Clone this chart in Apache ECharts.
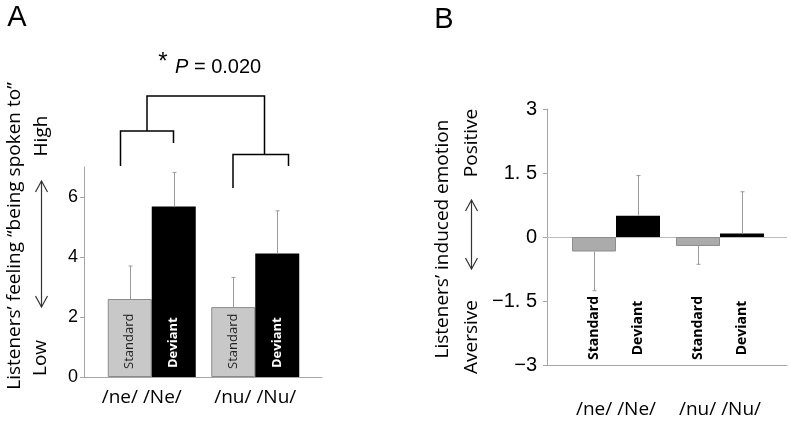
<!DOCTYPE html>
<html><head><meta charset="utf-8">
<script src="https://cdn.jsdelivr.net/npm/echarts@6/dist/echarts.min.js"></script>
<style>html,body{margin:0;padding:0;background:#fff}#c{width:791px;height:421px}</style>
</head><body><div id="c"></div>
<script>
// ---- data ----
const barNames = ['Standard', 'Deviant'];
const groupsA = ['/ne/ /Ne/', '/nu/ /Nu/'];
const standardA = [2.6, 2.33];
const deviantA = [5.68, 4.12];
const standardErrA = [1.1, 0.99];
const deviantErrA = [1.14, 1.42];
const ticksA = [0, 2, 4, 6];

const groupsB = ['/ne/ /Ne/', '/nu/ /Nu/'];
const standardB = [-0.34, -0.21];
const deviantB = [0.50, 0.08];
const standardErrB = [0.92, 0.43];
const deviantErrB = [0.94, 0.98];
const ticksB = [-3, -1.5, 0, 1.5, 3];
const tickLabelsB = ['−3', '−1. 5', '0', '1. 5', '3'];
const baselineB = 0;

// ---- styling ----
const BAR_W = 44;
const AXIS_C = '#a6a6a6';
const B_LEFT_EXT = 17;   // y-axis offset of panel B
const B_RIGHT_EXT = 15;  // axis extension on the right of panel B
const SANS = '"Open Sans", "Noto Sans", sans-serif';
const ARIAL = '"Liberation Sans", Arial, sans-serif';

function errData(std, dev, stdErr, devErr) {
  const out = [];
  std.forEach((v, i) => {
    out.push([i, v, stdErr[i], 0]);
    out.push([i, dev[i], devErr[i], 1]);
  });
  return out;
}
function errorItem(params, api) {
  const cat = api.value(0), mean = api.value(1), err = api.value(2), side = api.value(3);
  const c = api.coord([cat, mean]);
  const x = Math.round(c[0] + (side === 0 ? -BAR_W / 2 : BAR_W / 2)) + 0.5;
  const e = api.coord([cat, mean + (mean >= 0 ? err : -err)]);
  return { type: 'group', children: [
    { type: 'line', shape: { x1: x, y1: c[1], x2: x, y2: e[1] }, style: { stroke: '#9a9a9a', lineWidth: 1 } },
    { type: 'line', shape: { x1: x - 2, y1: e[1], x2: x + 2, y2: e[1] }, style: { stroke: '#9a9a9a', lineWidth: 1 } }
  ]};
}
function labelItemB(params, api) {
  const cat = api.value(0), side = api.value(1);
  const c = api.coord([cat, 0]);
  const cs = params.coordSys;
  const x = c[0] + (side === 0 ? -BAR_W / 2 : BAR_W / 2);
  return { type: 'text', x: x, y: cs.y + cs.height - 37, rotation: Math.PI / 2,
    style: { text: barNames[side], fontFamily: SANS, fontWeight: 'bold', fontSize: 14, fill: '#000', align: 'center', verticalAlign: 'middle' } };
}
function baselineItem(params, api) {
  const cs = params.coordSys;
  const y = Math.round(api.coord([api.value(0), api.value(1)])[1]) + 0.5;
  return { type: 'line', shape: { x1: cs.x - B_LEFT_EXT, y1: y, x2: cs.x + cs.width + B_RIGHT_EXT, y2: y },
    style: { stroke: '#bcbcbc', lineWidth: 1 } };
}

const hiddenAxis = { axisLine: { show: false }, axisTick: { show: false }, axisLabel: { show: false }, splitLine: { show: false } };

const option = {
  animation: false,
  backgroundColor: '#fff',
  grid: [
    { left: 100, top: 167, width: 207, height: 210 },
    { left: 84, top: 167, width: 238, height: 210 },
    { left: 564, top: 109, width: 208, height: 256 },
    { left: 547, top: 109, width: 240, height: 256 }
  ],
  xAxis: [
    { type: 'category', gridIndex: 0,
      data: groupsA.map((g, i) => i === 0 ? { value: g, textStyle: { padding: [0, 20, 0, 0] } } : g),
      axisLine: { show: false }, axisTick: { show: false },
      axisLabel: { interval: 0, fontSize: 19, color: '#000', margin: 11, fontFamily: SANS } },
    Object.assign({ type: 'value', gridIndex: 1, min: 0, max: 1 }, hiddenAxis,
      { axisLine: { show: true, onZero: false, lineStyle: { color: AXIS_C, width: 1 } } }),
    { type: 'category', gridIndex: 2, data: groupsB,
      axisLine: { show: false }, axisTick: { show: false },
      axisLabel: { interval: 0, fontSize: 19, color: '#000', margin: 35, fontFamily: SANS } },
    Object.assign({ type: 'value', gridIndex: 3, min: 0, max: 1, position: 'bottom' }, hiddenAxis,
      { axisLine: { show: true, onZero: false, lineStyle: { color: AXIS_C, width: 1 } } })
  ],
  yAxis: [
    { type: 'value', gridIndex: 0, min: 0, max: 7, offset: 16,
      axisLine: { show: true, lineStyle: { color: AXIS_C } },
      axisTick: { show: true, length: 4, customValues: ticksA, lineStyle: { color: AXIS_C } },
      axisLabel: { customValues: ticksA, fontSize: 18, color: '#000', margin: 6, fontFamily: ARIAL },
      splitLine: { show: false } },
    Object.assign({ type: 'value', gridIndex: 1, min: 0, max: 7 }, hiddenAxis),
    { type: 'value', gridIndex: 2, min: -3, max: 3, interval: 1.5, offset: B_LEFT_EXT,
      axisLine: { show: true, lineStyle: { color: AXIS_C } },
      axisTick: { show: true, length: 4, lineStyle: { color: AXIS_C } },
      axisLabel: { fontSize: 20, color: '#000', margin: 10, fontFamily: '"Liberation Sans Narrow", "Liberation Sans", sans-serif',
        formatter: v => tickLabelsB[ticksB.indexOf(v)] },
      splitLine: { show: false } },
    Object.assign({ type: 'value', gridIndex: 3, min: -3, max: 3 }, hiddenAxis)
  ],
  series: [
    { name: barNames[0], type: 'bar', xAxisIndex: 0, yAxisIndex: 0, data: standardA, barWidth: BAR_W, barGap: '0%',
      itemStyle: { color: '#c8c8c8', borderColor: '#8a8a8a', borderWidth: 1 },
      label: { show: true, formatter: '{a}', position: 'insideBottom', rotate: 90, align: 'left', verticalAlign: 'middle',
        distance: 8, fontSize: 13, color: '#222', fontFamily: SANS } },
    { name: barNames[1], type: 'bar', xAxisIndex: 0, yAxisIndex: 0, data: deviantA, barWidth: BAR_W, barGap: '0%',
      itemStyle: { color: '#000' },
      label: { show: true, formatter: '{a}', position: 'insideBottom', rotate: 90, align: 'left', verticalAlign: 'middle',
        distance: 9, fontSize: 13, fontWeight: 'bold', color: '#fff', fontFamily: SANS } },
    { type: 'custom', xAxisIndex: 0, yAxisIndex: 0, z: 5, renderItem: errorItem,
      data: errData(standardA, deviantA, standardErrA, deviantErrA) },
    { type: 'custom', xAxisIndex: 2, yAxisIndex: 2, z: 1, renderItem: baselineItem, silent: true,
      clip: false, data: [[0, baselineB]] },
    { name: barNames[0], type: 'bar', xAxisIndex: 2, yAxisIndex: 2, data: standardB, barWidth: BAR_W, barGap: '0%', z: 2,
      itemStyle: { color: '#ababab', borderColor: '#8c8c8c', borderWidth: 1 } },
    { name: barNames[1], type: 'bar', xAxisIndex: 2, yAxisIndex: 2, data: deviantB, barWidth: BAR_W, barGap: '0%', z: 2,
      itemStyle: { color: '#000' } },
    { type: 'custom', xAxisIndex: 2, yAxisIndex: 2, z: 5, renderItem: errorItem,
      data: errData(standardB, deviantB, standardErrB, deviantErrB) },
    { type: 'custom', xAxisIndex: 2, yAxisIndex: 2, z: 6, renderItem: labelItemB,
      data: [[0, 0], [0, 1], [1, 0], [1, 1]] }
  ],
  graphic: (function () {
    const g = [];
    const txt = (t, x, y, size, rot, extra) => g.push(Object.assign({ type: 'text', x: x, y: y, rotation: rot || 0,
      style: Object.assign({ text: t, fontSize: size, fontFamily: SANS, fill: '#000', align: 'center', verticalAlign: 'middle' }, extra || {}) }));
    const R = Math.PI / 2;
    txt('A', 17, 18, 29, 0, { fontFamily: ARIAL });
    txt('B', 444, 20, 29, 0, { fontFamily: ARIAL });
    txt('*', 163, 62, 24, 0, { fontFamily: ARIAL });
    g.push({ type: 'text', x: 175, y: 67, style: { text: '{i|P} = 0.020', fontSize: 20, fontFamily: ARIAL, fill: '#000',
      align: 'left', verticalAlign: 'middle', rich: { i: { fontStyle: 'italic', fontSize: 20, fontFamily: ARIAL } } } });
    txt('Listeners’ feeling “being spoken to”', 15, 236, 19, R);
    txt('High', 42, 136, 19, R);
    txt('Low', 41, 358, 19, R);
    txt('Listeners’ induced emotion', 443, 239, 19, R);
    txt('Positive', 472, 143, 19, R);
    txt('Aversive', 472, 337, 19, R);
    const pl = (pts, color, w) => g.push({ type: 'polyline', shape: { points: pts }, style: { stroke: color, lineWidth: w, fill: null } });
    // brackets
    pl([[120.5, 166], [120.5, 131], [173.5, 131], [173.5, 143]], '#000', 1.5);
    pl([[233, 188], [233, 154.5], [288.5, 154.5], [288.5, 166]], '#000', 1.5);
    pl([[147, 131], [147, 96], [264.5, 96], [264.5, 154.5]], '#000', 1.5);
    // arrows
    const arrow = (x, y1, y2) => {
      pl([[x, y1], [x, y2]], '#333', 1.2);
      pl([[x - 6, y1 + 11], [x, y1], [x + 6, y1 + 11]], '#333', 1.2);
      pl([[x - 6, y2 - 11], [x, y2], [x + 6, y2 - 11]], '#333', 1.2);
    };
    arrow(41.5, 181, 307);
    arrow(471.5, 200, 269);
    return g;
  })()
};
const chart = echarts.init(document.getElementById('c'), null, { renderer: 'canvas' });
chart.setOption(option);
</script></body></html>
